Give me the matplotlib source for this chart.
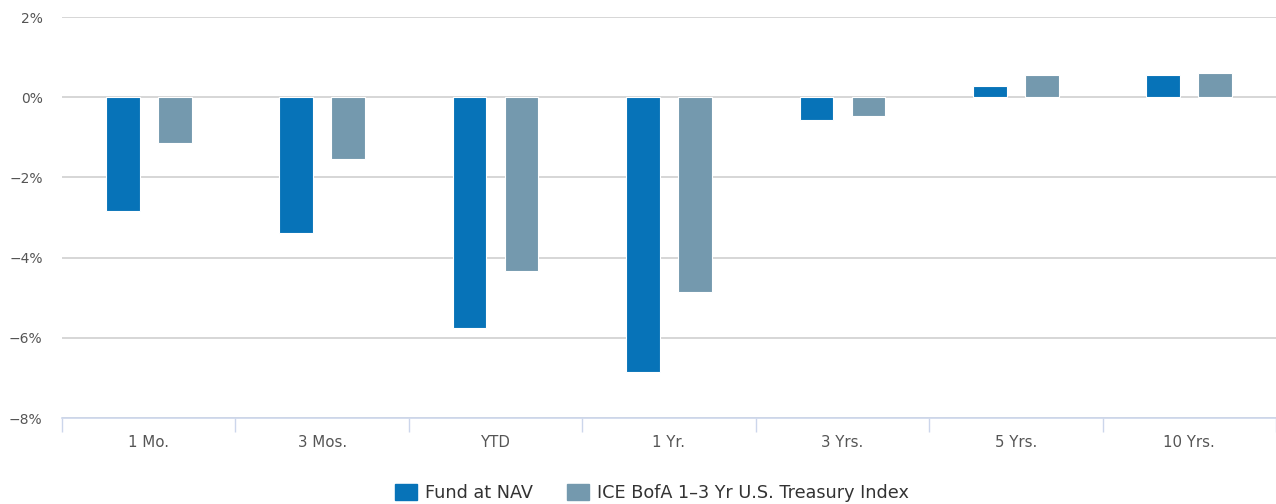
import numpy as np
import matplotlib
matplotlib.use("Agg")
import matplotlib.pyplot as plt
from matplotlib.patches import Patch

periods = ["1 Mo.", "3 Mos.", "YTD", "1 Yr.", "3 Yrs.", "5 Yrs.", "10 Yrs."]
fund_nav = [-2.83, -3.38, -5.75, -6.85, -0.57, 0.27, 0.56]
treasury_idx = [-1.14, -1.54, -4.33, -4.85, -0.47, 0.56, 0.60]

FUND_COLOR = "#0773b8"
IDX_COLOR = "#7499ae"

plt.rcParams["font.family"] = ["DejaVu Sans"]

fig = plt.figure(figsize=(12.76, 5.04), dpi=100)
ax = fig.add_axes([62 / 1276, 1 - 418 / 504, 1 - 62 / 1276, (418 - 17) / 504])

x = np.arange(len(periods))
w = 0.195
ax.bar(x - 0.15, fund_nav, w, color=FUND_COLOR, edgecolor="white", linewidth=0.8, zorder=3)
ax.bar(x + 0.15, treasury_idx, w, color=IDX_COLOR, edgecolor="white", linewidth=0.8, zorder=3)

ax.set_xlim(-0.5, len(periods) - 0.5)
ax.set_ylim(-8, 2)
yt = np.arange(-8, 3, 2)
ax.set_yticks(yt)
ax.set_yticklabels([f"{v}%".replace("-", "\u2212") for v in yt])
ax.grid(axis="y", color="#d0d0d0", lw=1.2, zorder=0)
ax.tick_params(axis="y", length=0, pad=14, labelsize=10, labelcolor="#555555")

ax.set_xticks(x)
ax.set_xticklabels(periods)
ax.tick_params(axis="x", length=0, pad=12, labelsize=10.8, labelcolor="#555555")
ax.set_xticks(np.arange(len(periods) + 1) - 0.5, minor=True)
ax.tick_params(axis="x", which="minor", length=10, width=1, color="#ccd6eb")

for s in ["top", "right", "left"]:
    ax.spines[s].set_visible(False)
ax.spines["bottom"].set_color("#ccd6eb")
ax.spines["bottom"].set_linewidth(1.2)

handles = [Patch(color=FUND_COLOR, label="Fund at NAV"),
           Patch(color=IDX_COLOR, label="ICE BofA 1\u20133 Yr U.S. Treasury Index")]
fig.legend(handles=handles, loc="center", bbox_to_anchor=(0.511, 1 - 493 / 504), ncol=2,
           frameon=False, fontsize=12.7, handlelength=1.25, handleheight=1.0,
           handletextpad=0.45, columnspacing=1.9, labelcolor="#333333")

plt.savefig("out.png", dpi=100)
